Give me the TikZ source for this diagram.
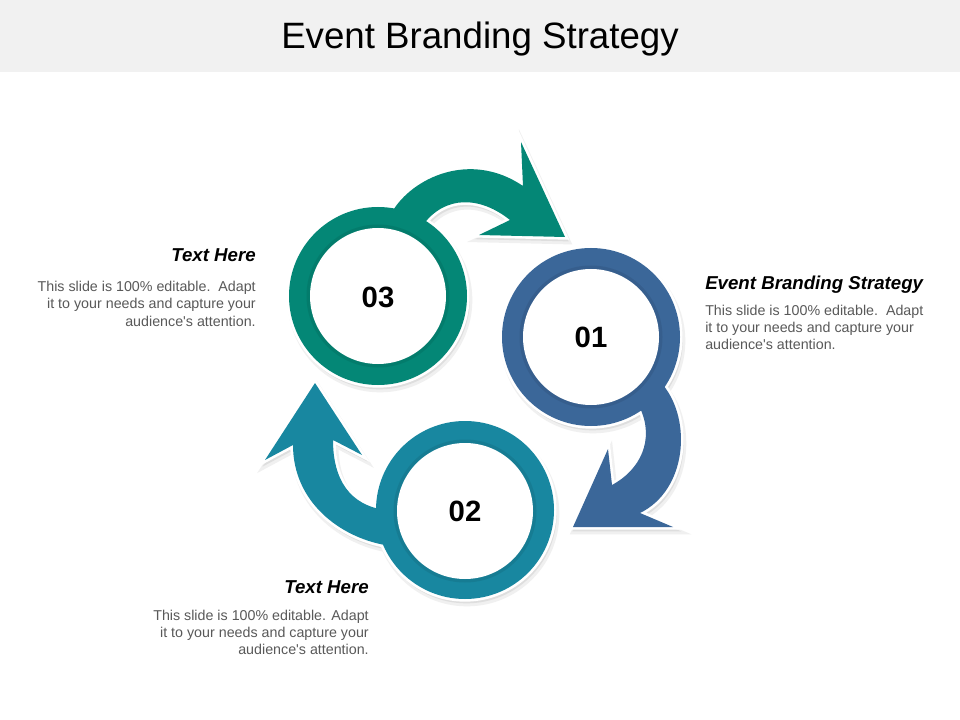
\documentclass[tikz,border=0pt]{standalone}
\usepackage{fontspec}
\setmainfont{Liberation Sans}
\definecolor{cgreen}{RGB}{4,135,118}
\definecolor{cblue}{RGB}{59,103,153}
\definecolor{cteal}{RGB}{24,135,160}
\definecolor{bodygray}{RGB}{89,89,89}
\definecolor{titlebar}{RGB}{241,241,241}
\tikzset{
  unitthree/.style={insert path={(378,296) circle[radius=89]
     (392,212) .. controls (412,178) and (470,150) .. (523,186) -- (521,142) -- (565,237) -- (479,235) -- (510,220)
     .. controls (480,196) and (445,195) .. (423,225) -- cycle}},
  unitone/.style={insert path={(591,337) circle[radius=89]
     (663,385) .. controls (692,420) and (687,490) .. (640,513) -- (673,527) -- (573,527) -- (608,449) -- (612,485)
     .. controls (640,470) and (655,440) .. (640,408) -- cycle}},
  unittwo/.style={insert path={(465,510) circle[radius=89]
     (385,545) .. controls (340,537) and (293,502) .. (293,445) -- (265,460) -- (315,383) -- (362,455) -- (333,440)
     .. controls (333,480) and (350,505) .. (385,510) -- cycle}},
  softshadow/.style={fill=black!6, draw=black!6, line width=5pt, shift={(2,4)}},
  hardshadow/.style={fill=black!13, draw=black!13, line width=2pt, shift={(1.5,3)}},
  whiteedge/.style={draw=white, line width=4pt},
  disc/.style={fill=white},
  discedge/.style={draw=black, opacity=0.08, line width=3pt},
  numst/.style={font=\fontsize{22}{26}\selectfont\bfseries, text=black, inner sep=0pt},
  headst/.style={font=\fontsize{14}{17}\selectfont\bfseries\itshape, text=black, inner sep=0pt},
  bodyst/.style={font=\fontsize{10.7}{12.8}\selectfont, text=bodygray, inner sep=0pt},
}
\begin{document}
\begin{tikzpicture}[x=0.75pt, y=-0.75pt]
\useasboundingbox (0,0) rectangle (960,720);
\fill[white] (0,0) rectangle (960,720);
\fill[titlebar] (0,0) rectangle (960,72);
\node[font=\fontsize{27.5}{32}\selectfont, text=black, inner sep=0pt, anchor=base] (title) at (480,48.5) {Event Branding Strategy};

% shadows
\foreach \u in {unitthree,unitone,unittwo} {
  \path[softshadow, \u];
}
\foreach \u in {unitthree,unitone,unittwo} {
  \path[hardshadow, \u];
}
% white outlines
\foreach \u in {unitthree,unitone,unittwo} {
  \path[whiteedge, \u];
}
% fills
\fill[cgreen, unitthree];
\fill[cblue, unitone];
\fill[cteal, unittwo];

% inner discs
\draw[discedge] (378,296) circle[radius=69.5];
\draw[discedge] (591,337) circle[radius=69.5];
\draw[discedge] (465,511) circle[radius=69.5];
\fill[disc] (378,296) circle[radius=68];
\fill[disc] (591,337) circle[radius=68];
\fill[disc] (465,511) circle[radius=68];

\node[numst] (n03) at (378,297) {03};
\node[numst] (n01) at (591,337) {01};
\node[numst] (n02) at (465,511) {02};

% texts
\node[headst, anchor=base east] (h3) at (256,262) {Text Here};
\node[bodyst, anchor=base east, align=right] (b3) at (256,326) {This slide is 100\% editable.\ \ Adapt\\it to your needs and capture your\\audience\textquotesingle s attention.};

\node[headst, anchor=base west] (h1) at (705,290) {Event Branding Strategy};
\node[bodyst, anchor=base west, align=left] (b1) at (705,349.5) {This slide is 100\% editable.\ \ Adapt\\it to your needs and capture your\\audience\textquotesingle s attention.};

\node[headst, anchor=base east] (h2) at (369,593) {Text Here};
\node[bodyst, anchor=base east, align=right] (b2) at (369,654.5) {This slide is 100\% editable. Adapt\\it to your needs and capture your\\audience\textquotesingle s attention.};
\end{tikzpicture}
\end{document}
